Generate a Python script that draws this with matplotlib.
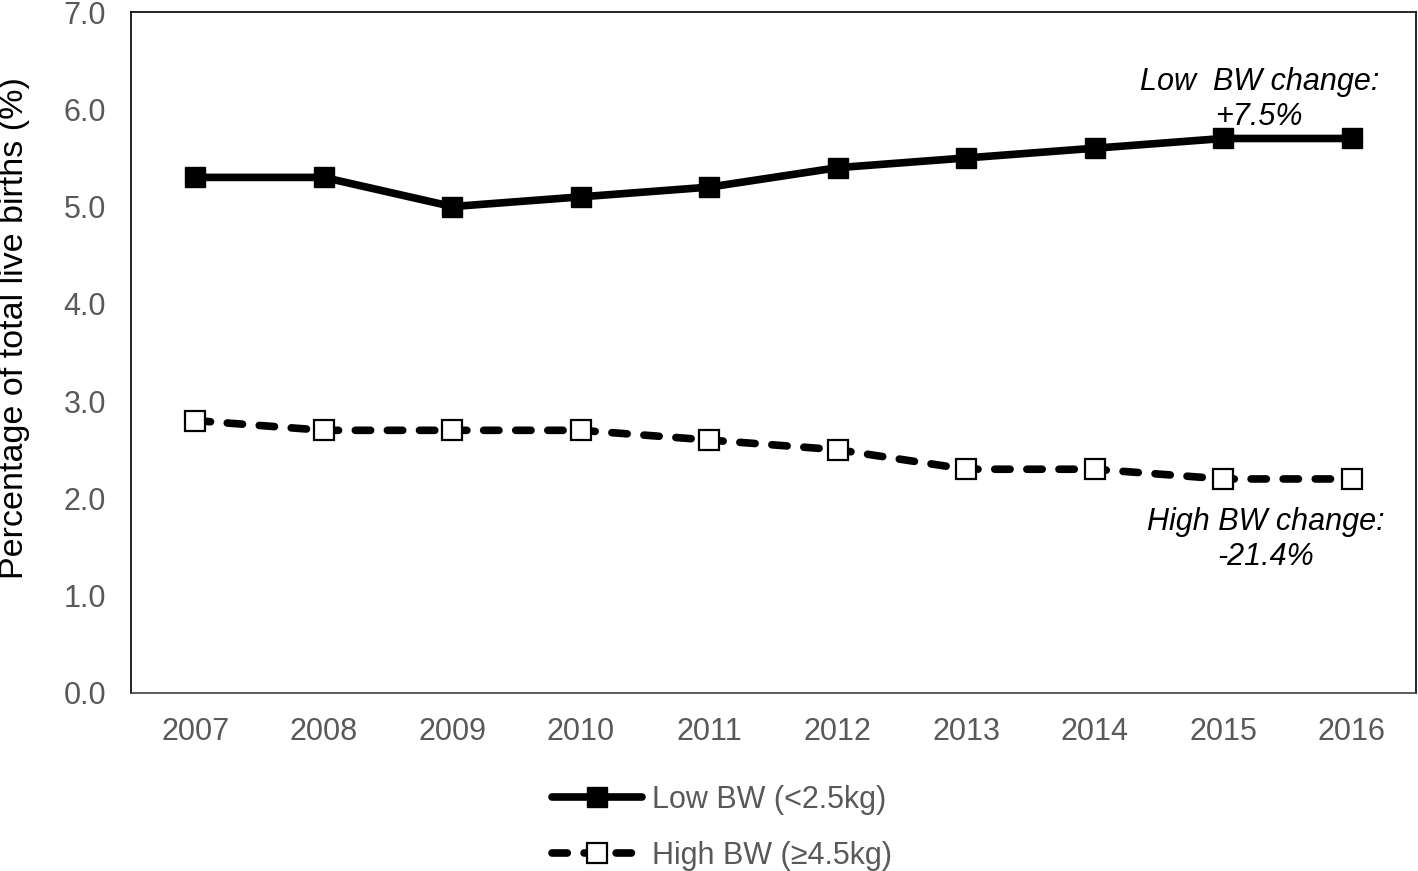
import numpy as np
import matplotlib.pyplot as plt

plt.rcParams['font.family'] = ['Liberation Sans', 'DejaVu Sans']

years = ['2007', '2008', '2009', '2010', '2011', '2012', '2013', '2014', '2015', '2016']
low_bw = [5.3, 5.3, 5.0, 5.1, 5.2, 5.4, 5.5, 5.6, 5.7, 5.7]
high_bw = [2.8, 2.7, 2.7, 2.7, 2.6, 2.5, 2.3, 2.3, 2.2, 2.2]
y_ticks = [0.0, 1.0, 2.0, 3.0, 4.0, 5.0, 6.0, 7.0]

grey = '#595959'
x = np.arange(len(years))

fig = plt.figure(figsize=(14.18, 8.71), dpi=100)
ax = fig.add_axes([0.0924, 0.2044, 0.9062, 0.7818])

ax.plot(x, low_bw, color='black', lw=5.5, marker='s', ms=14,
        mfc='black', mec='black', solid_capstyle='round',
        label='Low BW (<2.5kg)', zorder=3)
line_hi, = ax.plot(x, high_bw, color='black', lw=5.5, marker='s', ms=14,
                   mfc='white', mec='black', mew=1.6,
                   dash_capstyle='round', label='High BW (≥4.5kg)', zorder=3)
line_hi.set_dashes((2.0, 2.2))

ax.set_xlim(-0.5, len(years) - 0.5)
ax.set_ylim(0, 7)
ax.set_xticks(x)
ax.set_xticklabels(years)
ax.set_yticks(y_ticks)
ax.set_yticklabels([f'{v:.1f}' for v in y_ticks])
ax.tick_params(axis='both', length=0, labelsize=22, labelcolor=grey)
ax.tick_params(axis='x', pad=17)
ax.tick_params(axis='y', pad=18)

for side in ['top', 'right', 'left']:
    ax.spines[side].set_color('black')
    ax.spines[side].set_linewidth(1.2)
ax.spines['bottom'].set_color('#404040')
ax.spines['bottom'].set_linewidth(1.2)

ax.set_ylabel('Percentage of total live births (%)', fontsize=24.5, color='black')
ax.yaxis.set_label_coords(-0.079, 0.536)

ax.text(8.28, 6.1, 'Low  BW change:\n+7.5%', fontsize=22, style='italic',
        ha='center', va='center', multialignment='center', linespacing=1.2)
ax.text(8.33, 1.58, 'High BW change:\n-21.4%', fontsize=22, style='italic',
        ha='center', va='center', multialignment='center', linespacing=1.2)

fig.legend(loc='center', bbox_to_anchor=(0.509, 0.0495), frameon=False,
           fontsize=22, labelcolor=grey, handlelength=2.95, handletextpad=0.33,
           labelspacing=0.85)

fig.savefig('out.png', dpi=100, facecolor='white')
